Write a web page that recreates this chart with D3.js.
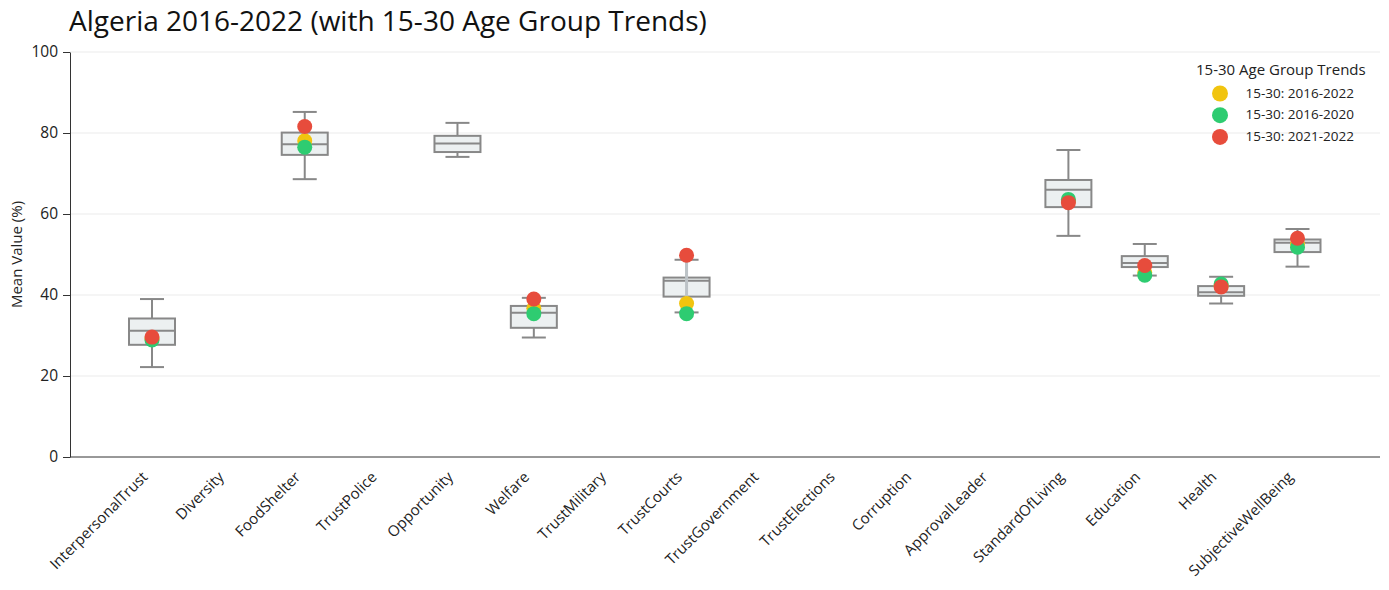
<!DOCTYPE html>
<html>
<head>
<meta charset="utf-8">
<script src="https://cdn.jsdelivr.net/npm/d3@7"></script>
<style>
  html, body { margin: 0; padding: 0; background: #fff; }
  svg { display: block; font-family: "Open Sans", "Noto Sans", sans-serif; }
</style>
</head>
<body>
<svg id="chart" width="1389" height="590"></svg>
<script>
// ---- data ----
const categories = ["InterpersonalTrust","Diversity","FoodShelter","TrustPolice","Opportunity","Welfare","TrustMilitary","TrustCourts","TrustGovernment","TrustElections","Corruption","ApprovalLeader","StandardOfLiving","Education","Health","SubjectiveWellBeing"];
// box stats
const boxCategories = ["InterpersonalTrust","FoodShelter","Opportunity","Welfare","TrustCourts","StandardOfLiving","Education","Health","SubjectiveWellBeing"];
const boxLow    = [22.2, 68.6, 74.1, 29.5, 35.7, 54.6, 44.8, 37.9, 47.0];
const boxQ1     = [27.7, 74.6, 75.3, 31.9, 39.6, 61.7, 46.9, 39.8, 50.6];
const boxMedian = [31.2, 77.2, 77.4, 35.6, 43.5, 66.0, 47.9, 40.7, 52.9];
const boxQ3     = [34.2, 80.1, 79.3, 37.3, 44.3, 68.4, 49.6, 42.2, 53.7];
const boxHigh   = [39.0, 85.2, 82.5, 39.3, 48.7, 75.8, 52.6, 44.5, 56.3];
// 15-30 trend dots
const dotCategories = ["InterpersonalTrust","FoodShelter","Welfare","TrustCourts","StandardOfLiving","Education","Health","SubjectiveWellBeing"];
const series2016_2022 = [29.2, 78.1, 36.7, 37.9, 63.2, 45.5, 42.3, 52.6];
const series2016_2020 = [28.9, 76.5, 35.4, 35.4, 63.6, 44.9, 42.7, 51.8];
const series2021_2022 = [29.6, 81.6, 39.0, 49.8, 62.8, 47.3, 42.0, 54.0];
const seriesNames = ["15-30: 2016-2022", "15-30: 2016-2020", "15-30: 2021-2022"];
const seriesColors = ["#f1c40f", "#2ecc71", "#e74c3c"];
const yTicks = [0, 20, 40, 60, 80, 100];

// ---- layout ----
const svg = d3.select("#chart");
const mLeft = 70, mRight = 1380, mTop = 52, mBottom = 457;

const y = d3.scaleLinear().domain([0, 100]).range([mBottom, mTop]);
const x = d3.scalePoint().domain(categories).range([152, 1297.5]);

// gridlines
svg.append("g").selectAll("line").data(yTicks.filter(d => d > 0)).join("line")
  .attr("x1", mLeft).attr("x2", mRight)
  .attr("y1", d => y(d)).attr("y2", d => y(d))
  .attr("stroke", "#ebebeb").attr("stroke-width", 1);

// y axis
const yAxis = svg.append("g").attr("transform", `translate(${mLeft},0)`)
  .call(d3.axisLeft(y).tickValues(yTicks).tickSize(7).tickPadding(5).tickSizeOuter(0));
yAxis.select(".domain").attr("stroke", "#333");
yAxis.selectAll(".tick line").attr("stroke", "#333");
yAxis.selectAll(".tick text").attr("font-size", 15.5).attr("fill", "#222")
  .attr("font-family", "'Open Sans', sans-serif");

// x axis labels
const xAxis = svg.append("g").attr("transform", `translate(0,${mBottom})`)
  .call(d3.axisBottom(x).tickSize(0));
xAxis.select(".domain").remove();
xAxis.selectAll(".tick text")
  .attr("font-size", 15).attr("fill", "#222")
  .attr("font-family", "'Open Sans', sans-serif")
  .attr("text-anchor", "end")
  .attr("dy", null).attr("y", 0)
  .attr("transform", "translate(-4,21) rotate(-45)");

// bottom axis line
svg.append("line").attr("x1", mLeft).attr("x2", mRight)
  .attr("y1", mBottom).attr("y2", mBottom).attr("stroke", "#333").attr("stroke-width", 1);

// y title
svg.append("text").attr("transform", `translate(21.5,${(mTop + mBottom) / 2}) rotate(-90)`)
  .attr("text-anchor", "middle").attr("font-size", 15).attr("fill", "#222")
  .text("Mean Value (%)");

// title
svg.append("text").attr("x", 69).attr("y", 31).attr("font-size", 28).attr("fill", "#111")
  .text("Algeria 2016-2022 (with 15-30 Age Group Trends)");

// boxes
const boxes = boxCategories.map((c, i) => ({ c, lo: boxLow[i], q1: boxQ1[i], med: boxMedian[i], q3: boxQ3[i], hi: boxHigh[i] }));
const bw = 23, cw = 12, boxStroke = "#888";
const bg = svg.append("g").selectAll("g").data(boxes).join("g");
bg.append("line").attr("x1", d => x(d.c)).attr("x2", d => x(d.c))
  .attr("y1", d => y(d.hi)).attr("y2", d => y(d.q3)).attr("stroke", boxStroke).attr("stroke-width", 2);
bg.append("line").attr("x1", d => x(d.c)).attr("x2", d => x(d.c))
  .attr("y1", d => y(d.q1)).attr("y2", d => y(d.lo)).attr("stroke", boxStroke).attr("stroke-width", 2);
bg.append("line").attr("x1", d => x(d.c) - cw).attr("x2", d => x(d.c) + cw)
  .attr("y1", d => y(d.hi)).attr("y2", d => y(d.hi)).attr("stroke", boxStroke).attr("stroke-width", 2);
bg.append("line").attr("x1", d => x(d.c) - cw).attr("x2", d => x(d.c) + cw)
  .attr("y1", d => y(d.lo)).attr("y2", d => y(d.lo)).attr("stroke", boxStroke).attr("stroke-width", 2);
bg.append("rect").attr("x", d => x(d.c) - bw).attr("width", bw * 2)
  .attr("y", d => y(d.q3)).attr("height", d => y(d.q1) - y(d.q3))
  .attr("fill", "#ecf0f1").attr("stroke", boxStroke).attr("stroke-width", 2);
bg.append("line").attr("x1", d => x(d.c) - bw).attr("x2", d => x(d.c) + bw)
  .attr("y1", d => y(d.med)).attr("y2", d => y(d.med)).attr("stroke", boxStroke).attr("stroke-width", 2);

// connecting lines between trend dots
const allSeries = [series2016_2022, series2016_2020, series2021_2022];
svg.append("g").selectAll("line").data(dotCategories).join("line")
  .attr("x1", c => x(c)).attr("x2", c => x(c))
  .attr("y1", (c, i) => y(d3.max(allSeries, s => s[i])))
  .attr("y2", (c, i) => y(d3.min(allSeries, s => s[i])))
  .attr("stroke", "#bdc3c7").attr("stroke-width", 3);

// dots
allSeries.forEach((s, si) => {
  svg.append("g").selectAll("circle").data(dotCategories).join("circle")
    .attr("cx", c => x(c)).attr("cy", (c, i) => y(s[i])).attr("r", 7.5)
    .attr("fill", seriesColors[si]);
});

// legend
const lg = svg.append("g");
lg.append("text").attr("x", 1196).attr("y", 75).attr("font-size", 15).attr("fill", "#222")
  .text("15-30 Age Group Trends");
seriesNames.forEach((n, i) => {
  lg.append("circle").attr("cx", 1220).attr("cy", 93.5 + i * 21.7).attr("r", 8).attr("fill", seriesColors[i]);
  lg.append("text").attr("x", 1245.5).attr("y", 97.5 + i * 21.7).attr("font-size", 13.5).attr("fill", "#222").text(n);
});
</script>
</body>
</html>
